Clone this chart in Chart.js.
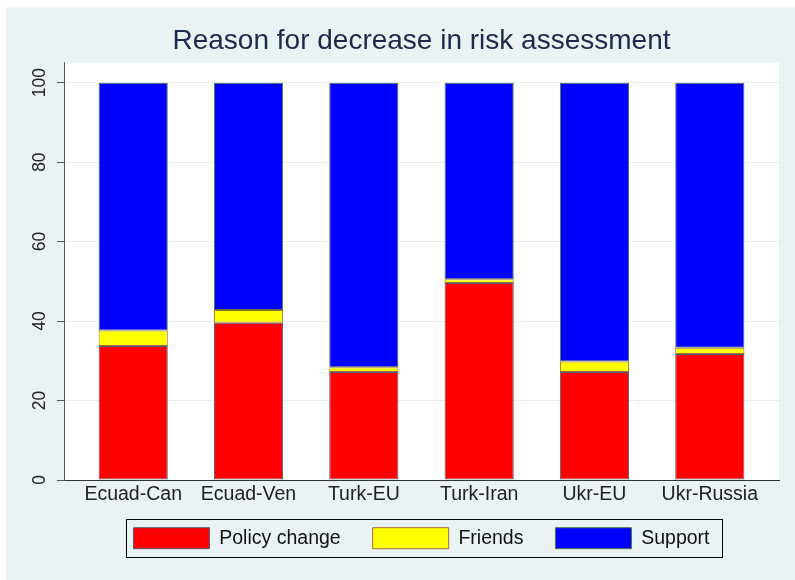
<!DOCTYPE html>
<html>
<head>
<meta charset="utf-8">
<title>Reason for decrease in risk assessment</title>
<script src="https://cdn.jsdelivr.net/npm/chart.js@4/dist/chart.umd.min.js"></script>
<style>
  body { margin: 0; background: #ffffff; }
  #wrap { width: 795px; height: 580px; }
</style>
</head>
<body>
<div id="wrap"><canvas id="chart" width="795" height="580"></canvas></div>
<script>
/* Data */
var pairs = ['Ecuad-Can', 'Ecuad-Ven', 'Turk-EU', 'Turk-Iran', 'Ukr-EU', 'Ukr-Russia'];
var policyChange = [33.7, 39.6, 27.2, 49.6, 27.2, 31.7];
var friends = [3.9, 3.2, 1.2, 0.9, 2.6, 1.6];
var support = [62.4, 57.2, 71.6, 49.5, 70.2, 66.7];
var yTicks = [0, 20, 40, 60, 80, 100];

var fontFamily = "'Liberation Sans', Arial, sans-serif";
Chart.defaults.font.family = fontFamily;

// turn a list of values into {x, y} points on the numeric x axis
function toPoints(values) {
  return values.map(function(v, i) { return {x: i, y: v}; });
}

/* Light frame behind the chart and white plot region */
var backdrop = {
  id: 'backdrop',
  beforeDraw: function(chart) {
    var ctx = chart.ctx;
    var area = chart.chartArea;
    ctx.save();
    ctx.fillStyle = '#eaf2f3';
    ctx.fillRect(6, 7, chart.width - 6, chart.height - 7);
    ctx.fillStyle = '#ffffff';
    ctx.fillRect(area.left, area.top, area.right - area.left, area.bottom - area.top);
    ctx.restore();
  }
};

/* Box round the legend */
var legendFrame = {
  id: 'legendFrame',
  afterDraw: function(chart) {
    var boxes = chart.legend.legendHitBoxes;
    if (!boxes || !boxes.length) return;
    var left = Infinity, right = -Infinity, top = Infinity, bottom = -Infinity;
    boxes.forEach(function(b) {
      left = Math.min(left, b.left);
      right = Math.max(right, b.left + b.width);
      top = Math.min(top, b.top);
      bottom = Math.max(bottom, b.top + b.height);
    });
    var ctx = chart.ctx;
    ctx.save();
    ctx.strokeStyle = '#000000';
    ctx.lineWidth = 1;
    ctx.strokeRect(Math.round(left - 8) + 0.5, Math.round(top - 8.5) + 0.5,
                   Math.round(right - left + 20), Math.round(bottom - top + 17));
    ctx.restore();
  }
};

var barStyle = {
  borderWidth: 1,
  borderSkipped: false,
  categoryPercentage: 1.0,
  barPercentage: 0.6
};

var ctx = document.getElementById('chart');
var chart = new Chart(ctx, {
  type: 'bar',
  data: {
    datasets: [
      Object.assign({label: 'Policy change', data: toPoints(policyChange),
        backgroundColor: '#ff0000', borderColor: '#4f5f7a'}, barStyle),
      Object.assign({label: 'Friends', data: toPoints(friends),
        backgroundColor: '#ffff00', borderColor: '#a06a3a'}, barStyle),
      Object.assign({label: 'Support', data: toPoints(support),
        backgroundColor: '#0000ff', borderColor: '#4f7a3a'}, barStyle)
    ]
  },
  options: {
    responsive: false,
    animation: false,
    layout: { padding: {top: 0, left: 0, right: 16, bottom: 21.3} },
    plugins: {
      title: {
        display: true,
        fullSize: false,
        text: 'Reason for decrease in risk assessment',
        color: '#1c2a4b',
        font: {size: 28, weight: 'normal'},
        padding: {top: 24.5, bottom: 4.7}
      },
      legend: {
        position: 'bottom',
        fullSize: false,
        labels: {
          boxWidth: 76,
          boxHeight: 21,
          padding: 32,
          color: '#111111',
          font: {size: 19.5}
        }
      },
      tooltip: { enabled: false }
    },
    scales: {
      x: {
        type: 'linear',
        stacked: true,
        min: -0.6,
        max: 5.6,
        offset: false,
        afterBuildTicks: function(scale) {
          scale.ticks = pairs.map(function(p, i) { return {value: i}; });
        },
        afterFit: function(scale) {
          scale.height = 15.7;
          // labels reach a little below the short axis box, so keep them unclipped
          scale._computeLabelArea = function() {};
        },
        grid: { display: false, drawTicks: false },
        border: { display: true, color: '#333333', width: 1 },
        ticks: {
          padding: 3,
          color: '#222222',
          font: {size: 19.5},
          maxRotation: 0,
          autoSkip: false,
          callback: function(value) { return pairs[value]; }
        }
      },
      y: {
        stacked: true,
        min: 0,
        max: 105,
        afterBuildTicks: function(scale) {
          scale.ticks = yTicks.map(function(v) { return {value: v}; });
        },
        afterFit: function(scale) { scale.width = 64; },
        grid: {
          color: '#e6eef0',
          tickColor: '#555555',
          tickLength: 7
        },
        border: { display: true, color: '#555555', width: 1 },
        ticks: {
          minRotation: 90,
          maxRotation: 90,
          crossAlign: 'center',
          padding: 2.4,
          color: '#222222',
          font: {size: 17.5}
        }
      }
    }
  },
  plugins: [backdrop, legendFrame]
});
</script>
</body>
</html>
